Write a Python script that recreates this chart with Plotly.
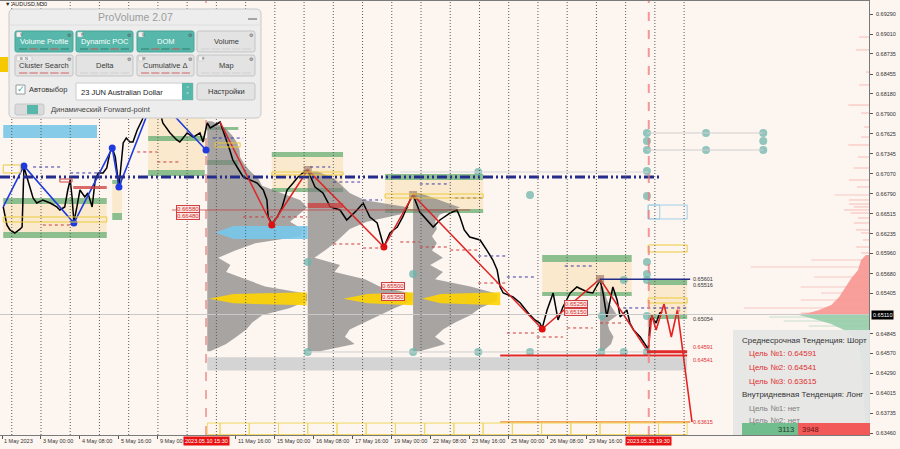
import plotly.graph_objects as go

# ======================= DATA =======================
# x = M30 bar number counted from 1 May 2023 16:00 (MT4 bar axis, weekends skipped)
price_bar = [2,8,13,21,30,33,36,41,46,51,57,67,79,90,95,103,108,112,115,118,123,128,136,141,148,153,158,166,172,177,
             181,186,192,197,199,204,210,215,222,230,243,251,259,264,276,287,292,304,314,325,330,337,342,350,358,374,379,386,396,419,
             429,435,437,443,452,460,468,478,486,494,502,514,527,539,555,566,583,593,604,616,624,627,637,649,658,670,675,686,708,719,
             736,747,752,759,768,785,796,806,813,818,823,839,851,864,875,883,887,895,905,913,921,933,944,961,970,982,987,993,1003,1010,
             1015,1026,1031,1037,1048,1059,1061,1064,1067,1074,1080,1084]
price_close = [0.66606,0.66355,0.66286,0.66244,0.66300,0.66327,0.67162,0.67023,0.66884,0.66731,
               0.66661,0.66703,0.66661,0.66606,0.66564,0.66606,0.66842,0.66981,0.66745,0.66397,
               0.66606,0.66842,0.66745,0.66800,0.66606,0.66981,0.67079,0.67079,0.67148,0.67357,
               0.67426,0.67301,0.66884,0.67301,0.67496,0.67565,0.67510,0.67510,0.67677,0.67816,
               0.68094,0.68164,0.67955,0.67774,0.67635,0.67538,0.67510,0.67635,0.67579,0.67635,
               0.67510,0.67774,0.67705,0.67746,0.67788,0.67398,0.67259,0.67162,0.67023,0.66939,
               0.66842,0.66703,0.66467,0.66370,0.66467,0.66606,0.66842,0.66939,0.67023,0.67079,
               0.67120,0.66884,0.66800,0.66606,0.66564,0.66425,0.66564,0.66661,0.66467,0.66383,
               0.66147,0.66049,0.66244,0.66327,0.66467,0.66703,0.66773,0.66536,0.66327,0.66425,
               0.66522,0.66564,0.66467,0.66286,0.66188,0.66147,0.66007,0.65868,0.65729,0.65493,
               0.65409,0.65354,0.65270,0.65131,0.65034,0.64992,0.64920,0.65173,0.65409,0.65034,
               0.65215,0.65409,0.65493,0.65423,0.65409,0.65590,0.65409,0.65076,0.65493,0.65312,
               0.65076,0.65173,0.64992,0.64895,0.64797,0.64658,0.64589,0.65034,0.65076,0.64992,
               0.65131,0.65145]

blue_zz_bar = [2, 36, 118, 181, 192, 251, 335]
blue_zz_price = [0.66606, 0.67176, 0.66383, 0.67426, 0.66884, 0.68164, 0.67398]

red_zz_bar = [358, 443, 502, 627, 675, 887, 982, 1061]
red_zz_price = [0.67788, 0.66355, 0.67120, 0.66049, 0.66773, 0.64909, 0.65604, 0.64589]
red_low_bar = [443, 627, 887]
red_low_price = [0.66355, 0.66049, 0.64909]
red_high_bar = [502, 675, 982]
red_high_price = [0.67120, 0.66773, 0.65604]

forecast_bar = [1061, 1067, 1074, 1087, 1099, 1109, 1133]
forecast_price = [0.64589, 0.65103, 0.64895, 0.65256, 0.64797, 0.65173, 0.63615]

profile_levels = [0.678,0.677,0.676,0.675,0.674,0.673,0.672,0.671,0.670,0.669,0.668,0.667,0.666,0.665,0.664,0.663,
                  0.662,0.661,0.660,0.659,0.658,0.657,0.656,0.655,0.654,0.653,0.652,0.651,0.650,0.649,0.648,0.647,0.646]
prof_a_start = 337
prof_a_width = [8,30,41,49,53,54,61,71,84,90,120,153,164,149,136,156,153,79,46,18,38,31,62,95,164,164,136,90,74,64,48,31,5]
prof_b_start = 502
prof_b_width = [16,44,57,69,94,167,151,97,69,57,44,28,11,53,44,94,118,172,172,143,118,94,69,61,77,20]   # 0.671..0.646
prof_c_start = 675
prof_c_width = [11,44,77,44,36,39,31,39,31,49,28,49,36,94,138,138,110,94,69,49,36,53,11]               # 0.668..0.646
prof_d_start = 982
prof_d_width = [5,8,12,20,28,12,15,22,18,5]                                                             # 0.655..0.646

poc_yellow_bar = [[340,380,500,500,380],[560,600,675,675,600],[690,720,818,818,720]]
poc_yellow_price = [[0.65330,0.65395,0.65420,0.65240,0.65265]] * 3
poc_blue_bar = [350,380,502,502,380]
poc_blue_price = [0.66250,0.66340,0.66340,0.66160,0.66160]

vp_red_price = [0.65938,0.65868,0.65729,0.65604,0.65493,0.65354,0.65243,0.65173,0.65131,0.65110]
vp_red_len = [5,13,18,30,38,49,62,82,99,123]
vp_green_price = [0.65110,0.65103,0.65048,0.64978,0.64895,0.64797,0.64658,0.64450,0.64100,0.63800,0.63500]
vp_green_len = [123,115,90,62,41,25,16,13,10,8,5]
vp_red_tick_price = [0.68970,0.68790,0.68483,0.68303,0.68024,0.67913,0.67718,0.67579,0.67468,0.67301,0.67148,0.66981,
                     0.66884,0.66773,0.66703,0.66647,0.66606,0.66564,0.66522,0.66453,0.66383,0.66286,0.66244,0.66147,
                     0.66049,0.65966,0.65868,0.65771,0.65632,0.65493,0.65409,0.65312,0.65201,0.65131]
vp_red_tick_len = [16,21,5,16,34,13,8,13,34,18,25,33,20,57,33,33,25,41,30,18,25,21,13,10,21,13,95,194,90,112,79,112,205,112]
vp_green_tick_price = [0.65076, 0.65020, 0.64950]
vp_green_tick_len = [164, 140, 99]

green_zones = [(2,172,0.66731,0.66647),(2,172,0.66258,0.66174),(181,197,0.66981,0.66926),(181,197,0.66522,0.66425),
               (240,333,0.67593,0.67524),(240,333,0.67120,0.67037),(337,388,0.67718,0.67677),(337,388,0.67259,0.67190),
               (443,560,0.67371,0.67301),(443,560,0.66870,0.66814),(629,790,0.67065,0.66981),(629,790,0.66578,0.66522),
               (887,1034,0.65938,0.65841),(887,1034,0.65423,0.65368),(1061,1125,0.65590,0.65521),(1061,1125,0.65103,0.65048)]
beige_zones = [(2,172,0.66647,0.66258),(181,197,0.66926,0.66522),(240,333,0.67844,0.67120),(443,560,0.67301,0.66870),
               (629,790,0.66981,0.66578),(887,1034,0.65841,0.65423),(1061,1125,0.65521,0.65103)]
yellow_boxes = [(2,30,0.67190,0.67079),(2,172,0.66467,0.66397),(350,391,0.67496,0.67440),(443,560,0.67092,0.67051),
                (629,790,0.66786,0.66731),(1061,1125,0.66077,0.65980),(1061,1125,0.65340,0.65270)]
blue_boxes = [(1061,1125,0.66633,0.66439),(1061,1080,0.66633,0.66439)]
lightblue_fill = [(2,156,0.67746,0.67565)]
yellow_fill = [(-4,10,0.68692,0.68483)]
red_fill = [(117,172,0.66898,0.66856),(502,560,0.66661,0.66592)]
gray_band = (337, 1125, 0.64515, 0.64330)
bottom_box_edges = [337,358,406,454,502,550,598,646,694,742,790,838,886,934,982,1030,1078,1125]

blue_dash = [(51,100,0.67162),(112,161,0.67079),(346,396,0.67565),(506,539,0.67162),(544,588,0.66953),(593,624,0.66703),
             (686,736,0.66926),(744,790,0.66731),(782,829,0.65924),(829,875,0.65632),(924,970,0.65785),(1020,1125,0.65201)]
red_dash = [(67,112,0.66355),(222,255,0.67371),(255,292,0.67232),(396,435,0.66467),(440,501,0.66467),(544,588,0.66091),
            (593,626,0.66035),(654,686,0.66119),(686,736,0.66049),(736,785,0.66007),(782,829,0.65548),(829,875,0.64853),
            (878,921,0.64797),(928,970,0.64923),(982,1020,0.64992)]

teal_bar = [502,502,675,675,782,782,867,867,984,985,1021,1021,1059,1059,1059,1059,1059,1059,1059,1059,1059,1059,1156,1156,1250,1250,1250]
teal_price = [0.65841,0.64589,0.65674,0.64589,0.67092,0.64589,0.66773,0.64589,0.64589,0.65090,0.65590,0.64589,
              0.67635,0.67524,0.67398,0.67106,0.66759,0.65841,0.65674,0.65590,0.65090,0.64589,0.67635,0.67398,0.67635,0.67524,0.67398]

day_separator_bars = [16 + 48 * k for k in range(24)]
event_bars = [335, 1062]
event_labels = ["2023.05.10 15:30", "2023.05.31 19:30"]

tick_bars = [0,64,128,192,256,384,448,512,576,640,704,768,832,896,960]
tick_text = ["1 May 2023","3 May 00:00","4 May 08:00","5 May 16:00","9 May 00:00","11 May 16:00","15 May 00:00",
             "16 May 08:00","17 May 16:00","19 May 00:00","22 May 08:00","23 May 16:00","25 May 00:00","26 May 08:00","29 May 16:00"]
price_ticks = [0.69290,0.69010,0.68735,0.68455,0.68180,0.67900,0.67625,0.67345,0.67070,0.66790,0.66515,0.66235,
               0.65960,0.65680,0.65405,0.64845,0.64570,0.64290,0.64015,0.63735,0.63460]
bid_price = 0.65110

box_label_text = ["0.66580","0.66480","0.65500","0.65350","0.65250","0.65150"]
box_label_bar = [325,325,662,662,962,962]
box_label_price = [0.66580,0.66480,0.65500,0.65350,0.65250,0.65150]

level_label_text = ["0.65601","0.65516","0.65054","0.64591","0.64541","0.63615"]
level_label_price = [0.65601,0.65516,0.65054,0.64591,0.64541,0.63615]
level_label_red = [False,False,False,True,True,True]

target_lines_info = ["Среднесрочная Тенденция: Шорт","Цель №1: 0.64591","Цель №2: 0.64541","Цель №3: 0.63615",
                     "Внутридневная Тенденция: Лонг","Цель №1: нет","Цель №2: нет"]
buy_volume, sell_volume = 3113, 3948

# ======================= FIGURE =======================
BG = '#fdf5f0'
X_MIN, X_MAX = -3.3, 1423.6
Y_MIN, Y_MAX = 0.63434, 0.69471
PW, PT, PB = 869.0, 1.0, 435.0
def PX(px): return px / PW
def PY(py): return (PB - py) / (PB - PT)

FONT = 'Liberation Sans'
fig = go.Figure()
shapes, ann = [], []

def rect(b0, b1, p0, p1, fill=None, line=None, lw=1, layer='below', dash=None):
    shapes.append(dict(type='rect', xref='x', yref='y', x0=b0, x1=b1, y0=p1, y1=p0, layer=layer,
                       fillcolor=fill or 'rgba(0,0,0,0)',
                       line=dict(color=line or 'rgba(0,0,0,0)', width=lw if line else 0, dash=dash)))

def hline(b0, b1, p, color, width=1, dash=None, layer='above'):
    shapes.append(dict(type='line', xref='x', yref='y', x0=b0, x1=b1, y0=p, y1=p, layer=layer,
                       line=dict(color=color, width=width, dash=dash)))

# event line hidden behind the session profile (drawn first, below traces)
shapes.append(dict(type='line', xref='x', yref='paper', x0=event_bars[0], x1=event_bars[0], y0=0, y1=1,
                   line=dict(color='rgba(220,50,50,0.8)', width=1, dash='dash'), layer='below'))

# zones
for b0, b1, p0, p1 in beige_zones:
    rect(b0, b1, p0, p1, fill='rgba(250,226,188,0.65)')
for b0, b1, p0, p1 in green_zones:
    rect(b0, b1, p0, p1, fill='rgba(120,180,125,0.85)')
for b0, b1, p0, p1 in lightblue_fill:
    rect(b0, b1, p0, p1, fill='#86cbe8')
for b0, b1, p0, p1 in yellow_fill:
    rect(b0, b1, p0, p1, fill='#f5c800')
rect(gray_band[0], gray_band[1], gray_band[2], gray_band[3], fill='#d4d4d4')

# volume profiles
def profile(start, levels, widths, color):
    xs = [start] + [start + w for w in widths] + [start]
    ys = [levels[0]] + list(levels) + [levels[-1]]
    fig.add_trace(go.Scatter(x=xs, y=ys, fill='toself', fillcolor=color, mode='lines',
                             line=dict(width=0, color=color), hoverinfo='skip'))

GRAY = 'rgba(125,125,125,0.68)'
profile(prof_a_start, profile_levels, prof_a_width, GRAY)
profile(prof_b_start, profile_levels[7:], prof_b_width, GRAY)
profile(prof_c_start, profile_levels[10:], prof_c_width, GRAY)
profile(prof_d_start, profile_levels[23:], prof_d_width, GRAY)
for bx, py in zip(poc_yellow_bar, poc_yellow_price):
    fig.add_trace(go.Scatter(x=bx, y=py, fill='toself', fillcolor='rgba(255,212,0,0.9)', mode='lines',
                             line=dict(width=0), hoverinfo='skip'))
fig.add_trace(go.Scatter(x=poc_blue_bar, y=poc_blue_price, fill='toself', fillcolor='rgba(120,200,235,0.9)',
                         mode='lines', line=dict(width=0), hoverinfo='skip'))
for b0, b1, p0, p1 in red_fill:
    rect(b0, b1, p0, p1, fill='rgba(205,60,60,0.75)', layer='above')

# right-side market profile
fig.add_trace(go.Bar(orientation='h', y=vp_red_tick_price, x=vp_red_tick_len,
                     base=[X_MAX - l for l in vp_red_tick_len], width=0.00009,
                     marker=dict(color='rgba(245,140,135,0.85)', line=dict(width=0)), hoverinfo='skip'))
fig.add_trace(go.Bar(orientation='h', y=vp_green_tick_price, x=vp_green_tick_len,
                     base=[X_MAX - l for l in vp_green_tick_len], width=0.00009,
                     marker=dict(color='rgba(140,200,165,0.9)', line=dict(width=0)), hoverinfo='skip'))
fig.add_trace(go.Scatter(x=[X_MAX] + [X_MAX - l for l in vp_red_len] + [X_MAX], y=[vp_red_price[0]] + vp_red_price + [vp_red_price[-1]],
                         fill='toself', fillcolor='rgba(248,150,145,0.9)', mode='lines', line=dict(width=0), hoverinfo='skip'))
fig.add_trace(go.Scatter(x=[X_MAX] + [X_MAX - l for l in vp_green_len] + [X_MAX], y=[vp_green_price[0]] + vp_green_price + [vp_green_price[-1]],
                         fill='toself', fillcolor='rgba(150,205,170,0.9)', mode='lines', line=dict(width=0), hoverinfo='skip'))

# price
fig.add_trace(go.Scatter(x=price_bar, y=price_close, mode='lines', line=dict(color='#000000', width=1.5), hoverinfo='skip'))
# zigzags
fig.add_trace(go.Scatter(x=blue_zz_bar, y=blue_zz_price, mode='lines', line=dict(color='#1f3be0', width=1.6), hoverinfo='skip'))
fig.add_trace(go.Scatter(x=blue_zz_bar[1:], y=blue_zz_price[1:], mode='markers', marker=dict(color='#1f3be0', size=7), hoverinfo='skip'))
fig.add_trace(go.Scatter(x=red_zz_bar, y=red_zz_price, mode='lines', line=dict(color='#e02222', width=1.5), hoverinfo='skip'))
fig.add_trace(go.Scatter(x=forecast_bar, y=forecast_price, mode='lines', line=dict(color='#e82020', width=1.6), hoverinfo='skip'))
fig.add_trace(go.Scatter(x=red_low_bar, y=red_low_price, mode='markers', marker=dict(color='#e01010', size=7), hoverinfo='skip'))
fig.add_trace(go.Scatter(x=red_high_bar, y=red_high_price, mode='markers',
                         marker=dict(color='rgba(160,120,100,0.65)', size=8, symbol='square'), hoverinfo='skip'))
fig.add_trace(go.Scatter(x=teal_bar, y=teal_price, mode='markers', marker=dict(color='rgba(110,182,172,0.75)', size=8),
                         hoverinfo='skip'))

# lines
hline(X_MIN, 1080, 0.67023, '#232c8a', 3, '10px,3px,2px,3px,2px,3px')
shapes.append(dict(type='line', xref='paper', yref='y', x0=0, x1=1, y0=bid_price, y1=bid_price,
                   line=dict(color='#c9c9c9', width=1), layer='above'))
hline(279, 769, 0.66564, 'rgba(200,60,60,0.75)', 1)
hline(982, 1130, 0.65601, '#232c8a', 1.5)
hline(1059, 1125, 0.64591, '#e02a2a', 3)
hline(818, 1125, 0.64541, '#e02a2a', 2)
hline(818, 1130, 0.63615, '#f0903a', 1.5)
hline(1059, 1250, 0.67635, '#cfcfcf', 1)
hline(1059, 1250, 0.67398, '#cfcfcf', 1)
hline(502, 1059, 0.64589, '#cfcfcf', 1)
hline(654, 1061, 0.67092, '#d6d6d6', 1)
for b0, b1, p in blue_dash:
    hline(b0, b1, p, '#3a3aa8', 1, 'dot')
for b0, b1, p in red_dash:
    hline(b0, b1, p, '#cc3a3a', 1, 'dot')
for b0, b1, p0, p1 in yellow_boxes:
    rect(b0, b1, p0, p1, line='#eccb3a', lw=1, layer='above')
for b0, b1, p0, p1 in blue_boxes:
    rect(b0, b1, p0, p1, line='#9fd0e6', lw=1, layer='above')
rect(95, 115, 0.66995, 0.66953, line='#d04040', lw=1, layer='above')
for b0, b1 in zip(bottom_box_edges[:-1], bottom_box_edges[1:]):
    rect(b0, b1, 0.63600, 0.63440, line='#f0d860', lw=1, layer='above')

# separators and current event line
for b in day_separator_bars:
    shapes.append(dict(type='line', xref='x', yref='paper', x0=b, x1=b, y0=0, y1=1,
                       line=dict(color='#5a5a5a', width=1, dash='1px,2px'), layer='above'))
shapes.append(dict(type='line', xref='x', yref='paper', x0=event_bars[1], x1=event_bars[1], y0=0, y1=1,
                   line=dict(color='rgba(240,120,120,0.75)', width=2, dash='dash'), layer='above'))

# price labels in chart
for t, b, p in zip(box_label_text, box_label_bar, box_label_price):
    ann.append(dict(x=b, y=p, xref='x', yref='y', text=t, showarrow=False, xanchor='right', yanchor='middle',
                    font=dict(size=6, color='#d03030', family=FONT), bgcolor='#fde6e4', bordercolor='#d04040',
                    borderwidth=1, borderpad=0))
for t, p, r in zip(level_label_text, level_label_price, level_label_red):
    ya = 'middle'
    if t == "0.64591":
        ya = 'bottom'
    if t == "0.64541":
        ya = 'top'
    ann.append(dict(x=1131, y=p, xref='x', yref='y', text=t, showarrow=False, xanchor='left', yanchor=ya,
                    font=dict(size=5.5, color='#e03030' if r else '#333333', family=FONT)))
ann.append(dict(x=1110, y=0.65180, xref='x', yref='y', text='⇩', showarrow=False,
                font=dict(size=8, color='#e05050', family='DejaVu Sans')))

# axes labels (MT4 style: left aligned at tick)
for b, t in zip(tick_bars, tick_text):
    ann.append(dict(x=b, y=PY(441), xref='x', yref='paper', text=t, showarrow=False, xanchor='left', yanchor='middle',
                    font=dict(size=5.5, color='#333333', family=FONT)))
for b, t in zip(event_bars, event_labels):
    ann.append(dict(x=b, y=PY(441), xref='x', yref='paper', text=t, showarrow=False, xanchor='center', yanchor='middle',
                    font=dict(size=5.5, color='#ffffff', family=FONT), bgcolor='#e81010', borderpad=1))
for v in price_ticks:
    ann.append(dict(x=PX(874), y=v, xref='paper', yref='y', text=f"{v:.5f}", showarrow=False,
                    xanchor='left', yanchor='middle', font=dict(size=5.5, color='#333333', family=FONT)))
ann.append(dict(x=PX(871), y=bid_price, xref='paper', yref='y', text=f"{bid_price:.5f}", showarrow=False,
                xanchor='left', yanchor='middle', font=dict(size=5.5, color='#ffffff', family=FONT),
                bgcolor='#000000', borderpad=1))
ann.append(dict(x=PX(3), y=PY(4), xref='paper', yref='paper', text='▼ AUDUSD,M30', showarrow=False, xanchor='left',
                yanchor='middle', font=dict(size=5.5, color='#222222', family=FONT)))

# ---------- overlay panel (ProVolume) ----------
def rr_path(x0, y0, x1, y1, r):
    def p(x, y): return f"{PX(x):.5f},{PY(y):.5f}"
    return (f"M{p(x0+r,y0)} L{p(x1-r,y0)} Q{p(x1,y0)} {p(x1,y0+r)} L{p(x1,y1-r)} Q{p(x1,y1)} {p(x1-r,y1)} "
            f"L{p(x0+r,y1)} Q{p(x0,y1)} {p(x0,y1-r)} L{p(x0,y0+r)} Q{p(x0,y0)} {p(x0+r,y0)} Z")

def prr(x0, y0, x1, y1, fill, line=None, r=3, lw=1):
    shapes.append(dict(type='path', xref='paper', yref='paper', path=rr_path(x0, y0, x1, y1, r), fillcolor=fill,
                       line=dict(color=line or 'rgba(0,0,0,0)', width=lw if line else 0), layer='above'))

def prect(x0, y0, x1, y1, fill, line=None, lw=1):
    shapes.append(dict(type='rect', xref='paper', yref='paper', x0=PX(x0), x1=PX(x1), y0=PY(y1), y1=PY(y0),
                       fillcolor=fill, line=dict(color=line or 'rgba(0,0,0,0)', width=lw if line else 0), layer='above'))

def pline(x0, y0, x1, y1, color, w=1):
    shapes.append(dict(type='line', xref='paper', yref='paper', x0=PX(x0), x1=PX(x1), y0=PY(y0), y1=PY(y1),
                       line=dict(color=color, width=w), layer='above'))

def ptext(t, x, y, size, color, anchor='left', family=FONT):
    ann.append(dict(xref='paper', yref='paper', x=PX(x), y=PY(y), text=t, showarrow=False, xanchor=anchor,
                    yanchor='middle', font=dict(size=size, color=color, family=family)))

TEAL = '#56b7aa'
BTN = '#e3e3e3'
prr(9, 9, 261, 118, '#ededed', '#c9c9c9', r=5)
ptext('ProVolume 2.07', 135, 17, 10.5, '#9c9c9c', 'center')
pline(248, 19, 257, 19, '#8a8a8a', 1.5)
pline(10, 25, 260, 25, '#dedede', 1)
buttons = [("Volume Profile", 15, 31, 73, 52, True, "V"), ("Dynamic POC", 76, 31, 133, 52, True, "P"),
           ("DOM", 137, 31, 194, 52, True, "D"), ("Volume", 197, 31, 255, 52, False, ""),
           ("Cluster Search", 15, 55, 73, 76, False, "B  N"), ("Delta", 76, 55, 133, 76, False, ""),
           ("Cumulative Δ", 137, 55, 194, 76, False, "M"), ("Map", 197, 55, 255, 76, False, "F")]
for txt, x0, y0, x1, y1, on, key in buttons:
    prr(x0, y0, x1, y1, TEAL if on else BTN, '#c4c4c4' if not on else '#4aa598', r=2)
    ptext(txt, (x0 + x1) / 2, y0 + 10.5, 7.5, '#ffffff' if on else '#3a3a3a', 'center')
    if key:
        prr(x0 + 1.5, y0 + 1, x0 + 3 + 3.5 * len(key), y0 + 6, '#f2f2f2', '#bbbbbb', r=1, lw=0.5)
        ptext(key, x0 + 2.5, y0 + 3.5, 4, '#555555')
    ptext('⚙', x1 - 4, y0 + 3.5, 5, '#555555', 'center', 'DejaVu Sans')
    n = 5
    seg = (x1 - x0 - 6) / n
    for i in range(n):
        col = ('#2f7d6a' if i % 2 == 0 else '#c05050') if on else ('#d06060' if txt in ("Cluster Search", "Cumulative Δ") else '#cfcfcf')
        pline(x0 + 3 + i * seg + 1, y1 - 3, x0 + 3 + (i + 1) * seg - 1, y1 - 3, col, 1)
prect(16, 85, 25, 94, '#ffffff', '#9a9a9a')
ptext('✓', 20.5, 88.5, 9, '#3aa89a', 'center', 'DejaVu Sans')
ptext('Автовыбор', 27, 90, 7.5, '#333333')
prect(76, 83, 193, 100, '#ffffff', '#cccccc')
prect(182, 83, 193, 100, TEAL)
ptext('˄', 187.5, 88.5, 6, '#ffffff', 'center', 'DejaVu Sans')
ptext('˅', 187.5, 94.5, 6, '#ffffff', 'center', 'DejaVu Sans')
ptext('23 JUN Australian Dollar', 79, 92, 7.5, '#222222')
prr(197, 83, 255, 100, BTN, '#c4c4c4', r=2)
ptext('Настройки', 226, 91.5, 7.5, '#333333', 'center')
prr(15, 104, 44, 115, '#dadada', '#c6c6c6', r=2)
prect(27, 105, 38, 114, TEAL)
ptext('Динамический Forward-point', 49, 110, 7.5, '#444444')

# ---------- info box ----------
prect(733, 330, 870, 435, 'rgba(229,229,229,0.93)')
info_y = [340, 353, 367, 381, 394, 408, 420]
info_x = [740, 747, 747, 747, 740, 747, 747]
info_col = ['#333333', '#e03030', '#e03030', '#e03030', '#333333', '#808080', '#808080']
for t, x, y, c in zip(target_lines_info, info_x, info_y, info_col):
    ptext(t, x, y, 8, c)
prect(742, 423, 798, 435, '#72bd8e')
prect(798, 423, 870, 435, '#f25a5a')
ptext(str(buy_volume), 796, 429, 7.5, '#1e3a28', 'right')
ptext(str(sell_volume), 800, 429, 7.5, '#6a1010', 'left')

fig.update_layout(
    width=900, height=449, margin=dict(l=0, r=31, t=1, b=14),
    paper_bgcolor=BG, plot_bgcolor=BG, showlegend=False, barmode='overlay', hovermode=False,
    shapes=shapes, annotations=ann,
    xaxis=dict(range=[X_MIN, X_MAX], showgrid=False, zeroline=False, showline=True, linecolor='#7a7a7a', mirror=True,
               tickvals=tick_bars, ticks='outside', ticklen=3, tickcolor='#555555', showticklabels=False, fixedrange=True),
    yaxis=dict(range=[Y_MIN, Y_MAX], side='right', showgrid=False, zeroline=False, showline=True, linecolor='#7a7a7a',
               tickvals=price_ticks, ticks='outside', ticklen=3, showticklabels=False,
               tickcolor='#555555', fixedrange=True),
)
fig.write_html("out.html", config={'displayModeBar': False},
               post_script="document.body.style.margin='0';document.body.style.overflow='hidden';")
